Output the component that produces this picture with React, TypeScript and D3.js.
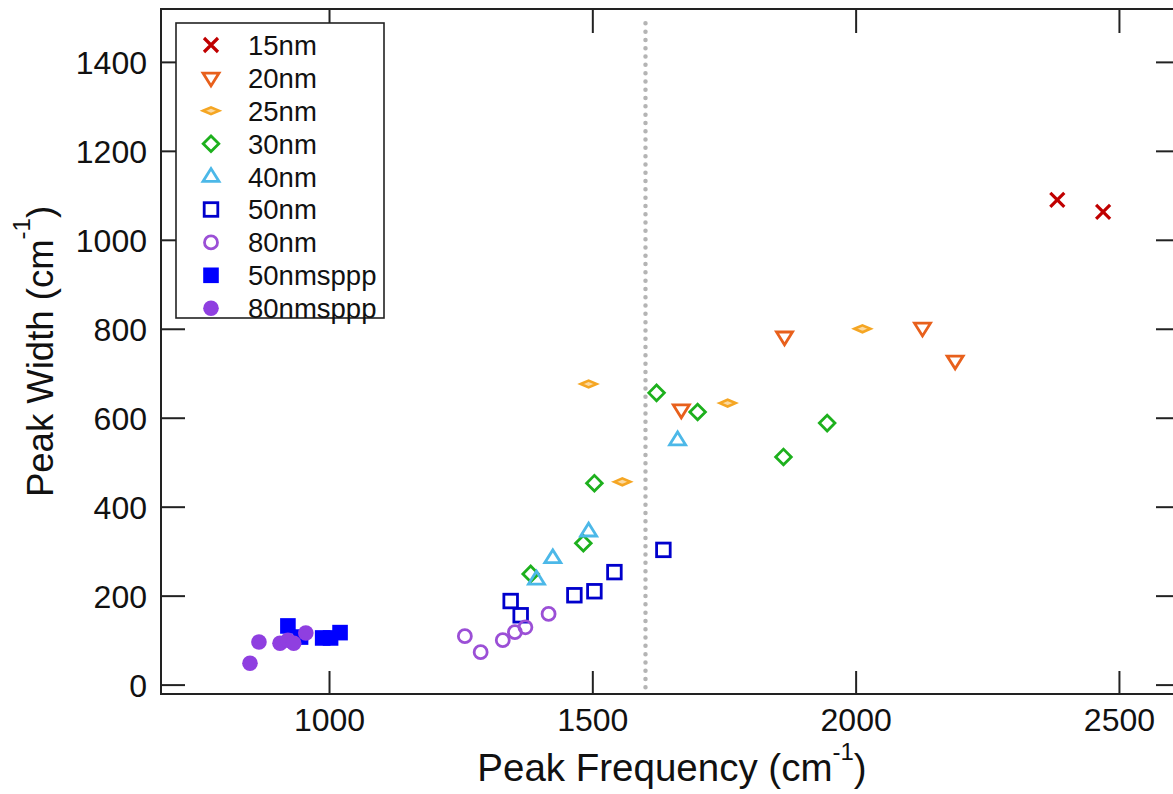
import React from "react";
import * as d3 from "d3";

const W = 1173;
const H = 794;

const xTicks = [1000, 1500, 2000, 2500];
const yTicks = [0, 200, 400, 600, 800, 1000, 1200, 1400];
const refLineX = 1600;
const refLineY = [-5, 1490];

const seriesNames = ["15nm", "20nm", "25nm", "30nm", "40nm", "50nm", "80nm", "50nmsppp", "80nmsppp"];
const seriesColors = ["#C00000", "#E8601C", "#F5A623", "#1DB01D", "#4CB8E8", "#0000CC", "#9B4FD6", "#0000FF", "#8F3FE0"];
const seriesShapes = ["x", "tridown", "flatdiamond", "diamond", "triup", "square", "circle", "fsquare", "fcircle"];

const d15nm: [number, number][] = [[2382, 1091], [2469, 1064]];
const d20nm: [number, number][] = [[1864, 783], [2126, 803], [2188, 729], [1668, 619]];
const d25nm: [number, number][] = [[1492, 677], [2012, 801], [1756, 634], [1556, 457]];
const d30nm: [number, number][] = [[1621, 657], [1699, 614], [1862, 513], [1945, 589], [1503, 454], [1482, 319], [1382, 250]];
const d40nm: [number, number][] = [[1661, 551], [1492, 346], [1424, 286], [1393, 238]];
const d50nm: [number, number][] = [[1634, 304], [1541, 254], [1503, 211], [1465, 202], [1344, 189], [1363, 157]];
const d80nm: [number, number][] = [[1257, 110], [1287, 74], [1329, 101], [1352, 119], [1372, 130], [1416, 160]];
const d50nmsppp: [number, number][] = [[921, 133], [945, 108], [987, 106], [1002, 106], [1020, 118]];
const d80nmsppp: [number, number][] = [[849, 49], [866, 97], [906, 94], [921, 101], [932, 94], [955, 117]];

const allData = [d15nm, d20nm, d25nm, d30nm, d40nm, d50nm, d80nm, d50nmsppp, d80nmsppp];

const left = 161, right = 1180, top = 9, bottom = 694;
const x = d3.scaleLinear().domain([680, 2615]).range([left, right]);
const y = d3.scaleLinear().domain([-20, 1520]).range([bottom, top]);

function Marker({ shape, color, cx, cy }: { shape: string; color: string; cx: number; cy: number }) {
  const sw = 2.8;
  switch (shape) {
    case "x": {
      const s = 7;
      return (
        <path d={`M${cx - s},${cy - s}L${cx + s},${cy + s}M${cx - s},${cy + s}L${cx + s},${cy - s}`} stroke={color} strokeWidth={3.2} fill="none" />
      );
    }
    case "tridown": {
      const s = 8;
      return <path d={`M${cx - s},${cy - s * 0.6}L${cx + s},${cy - s * 0.6}L${cx},${cy + s * 1.0}Z`} stroke={color} strokeWidth={sw} fill="none" strokeLinejoin="miter" />;
    }
    case "triup": {
      const s = 8;
      return <path d={`M${cx - s},${cy + s * 0.6}L${cx + s},${cy + s * 0.6}L${cx},${cy - s * 1.0}Z`} stroke={color} strokeWidth={sw} fill="none" strokeLinejoin="miter" />;
    }
    case "flatdiamond": {
      const w = 8, h = 3.4;
      return <path d={`M${cx - w},${cy}L${cx},${cy - h}L${cx + w},${cy}L${cx},${cy + h}Z`} stroke={color} strokeWidth={2.6} fill="#FBD9A0" />;
    }
    case "diamond": {
      const s = 7.8;
      return <path d={`M${cx - s},${cy}L${cx},${cy - s}L${cx + s},${cy}L${cx},${cy + s}Z`} stroke={color} strokeWidth={sw} fill="none" />;
    }
    case "square": {
      const s = 6.8;
      return <rect x={cx - s} y={cy - s} width={2 * s} height={2 * s} stroke={color} strokeWidth={sw} fill="none" />;
    }
    case "circle":
      return <circle cx={cx} cy={cy} r={6.5} stroke={color} strokeWidth={sw} fill="none" />;
    case "fsquare": {
      const s = 7.8;
      return <rect x={cx - s} y={cy - s} width={2 * s} height={2 * s} fill={color} />;
    }
    case "fcircle":
      return <circle cx={cx} cy={cy} r={7.8} fill={color} />;
    default:
      return null;
  }
}

export default function App() {
  const font = "'Liberation Sans', Arial, Helvetica, sans-serif";
  const legX = 176, legY = 23, legW = 208, legH = 295;
  const rowY0 = 45, rowDy = 32.9;
  const midX = 672;
  return (
    <svg width={W} height={H} style={{ position: "absolute", left: 0, top: 0, background: "#fff" }} fontFamily={font}>
      <rect x={0} y={0} width={W} height={H} fill="#fff" />
      {/* dotted reference line */}
      <line x1={x(refLineX)} x2={x(refLineX)} y1={y(refLineY[0])} y2={y(refLineY[1])} stroke="#B4B4B4" strokeWidth={4.5} strokeDasharray="0,8.3" strokeLinecap="round" />
      {/* ticks */}
      {xTicks.map((t) => (
        <g key={"xt" + t}>
          <line x1={x(t)} x2={x(t)} y1={bottom} y2={bottom - 23} stroke="#222" strokeWidth={2} />
          <line x1={x(t)} x2={x(t)} y1={top} y2={top + 24} stroke="#222" strokeWidth={2} />
          <text x={x(t)} y={731} textAnchor="middle" fontSize={32} fill="#111">{t}</text>
        </g>
      ))}
      {yTicks.map((t) => (
        <g key={"yt" + t}>
          <line x1={left} x2={left + 24} y1={y(t)} y2={y(t)} stroke="#222" strokeWidth={2} />
          <line x1={right} x2={right - 24} y1={y(t)} y2={y(t)} stroke="#222" strokeWidth={2} />
          <text x={147} y={y(t)} dy="0.36em" textAnchor="end" fontSize={32} fill="#111">{t}</text>
        </g>
      ))}
      {/* frame */}
      <rect x={left} y={top} width={right - left} height={bottom - top} fill="none" stroke="#222" strokeWidth={2} />
      {/* data */}
      {allData.map((data, si) =>
        data.map((d, i) => (
          <Marker key={si + "-" + i} shape={seriesShapes[si]} color={seriesColors[si]} cx={x(d[0])} cy={y(d[1])} />
        ))
      )}
      {/* legend */}
      <rect x={legX} y={legY} width={legW} height={legH} fill="#fff" stroke="#222" strokeWidth={1.6} />
      {seriesNames.map((n, i) => (
        <g key={n}>
          <Marker shape={seriesShapes[i]} color={seriesColors[i]} cx={211} cy={rowY0 + i * rowDy} />
          <text x={248} y={rowY0 + i * rowDy} dy="0.36em" fontSize={27.5} fill="#111">{n}</text>
        </g>
      ))}
      {/* axis titles */}
      <text x={midX} y={781} textAnchor="middle" fontSize={38.5} fill="#111">
        Peak Frequency (cm<tspan fontSize={24} dy={-21}>-1</tspan><tspan dy={21}>)</tspan>
      </text>
      <text transform={`translate(53,${(top + bottom) / 2}) rotate(-90)`} textAnchor="middle" fontSize={36.5} fill="#111">
        Peak Width (cm<tspan fontSize={24} dy={-23}>-1</tspan><tspan dy={23}>)</tspan>
      </text>
    </svg>
  );
}
